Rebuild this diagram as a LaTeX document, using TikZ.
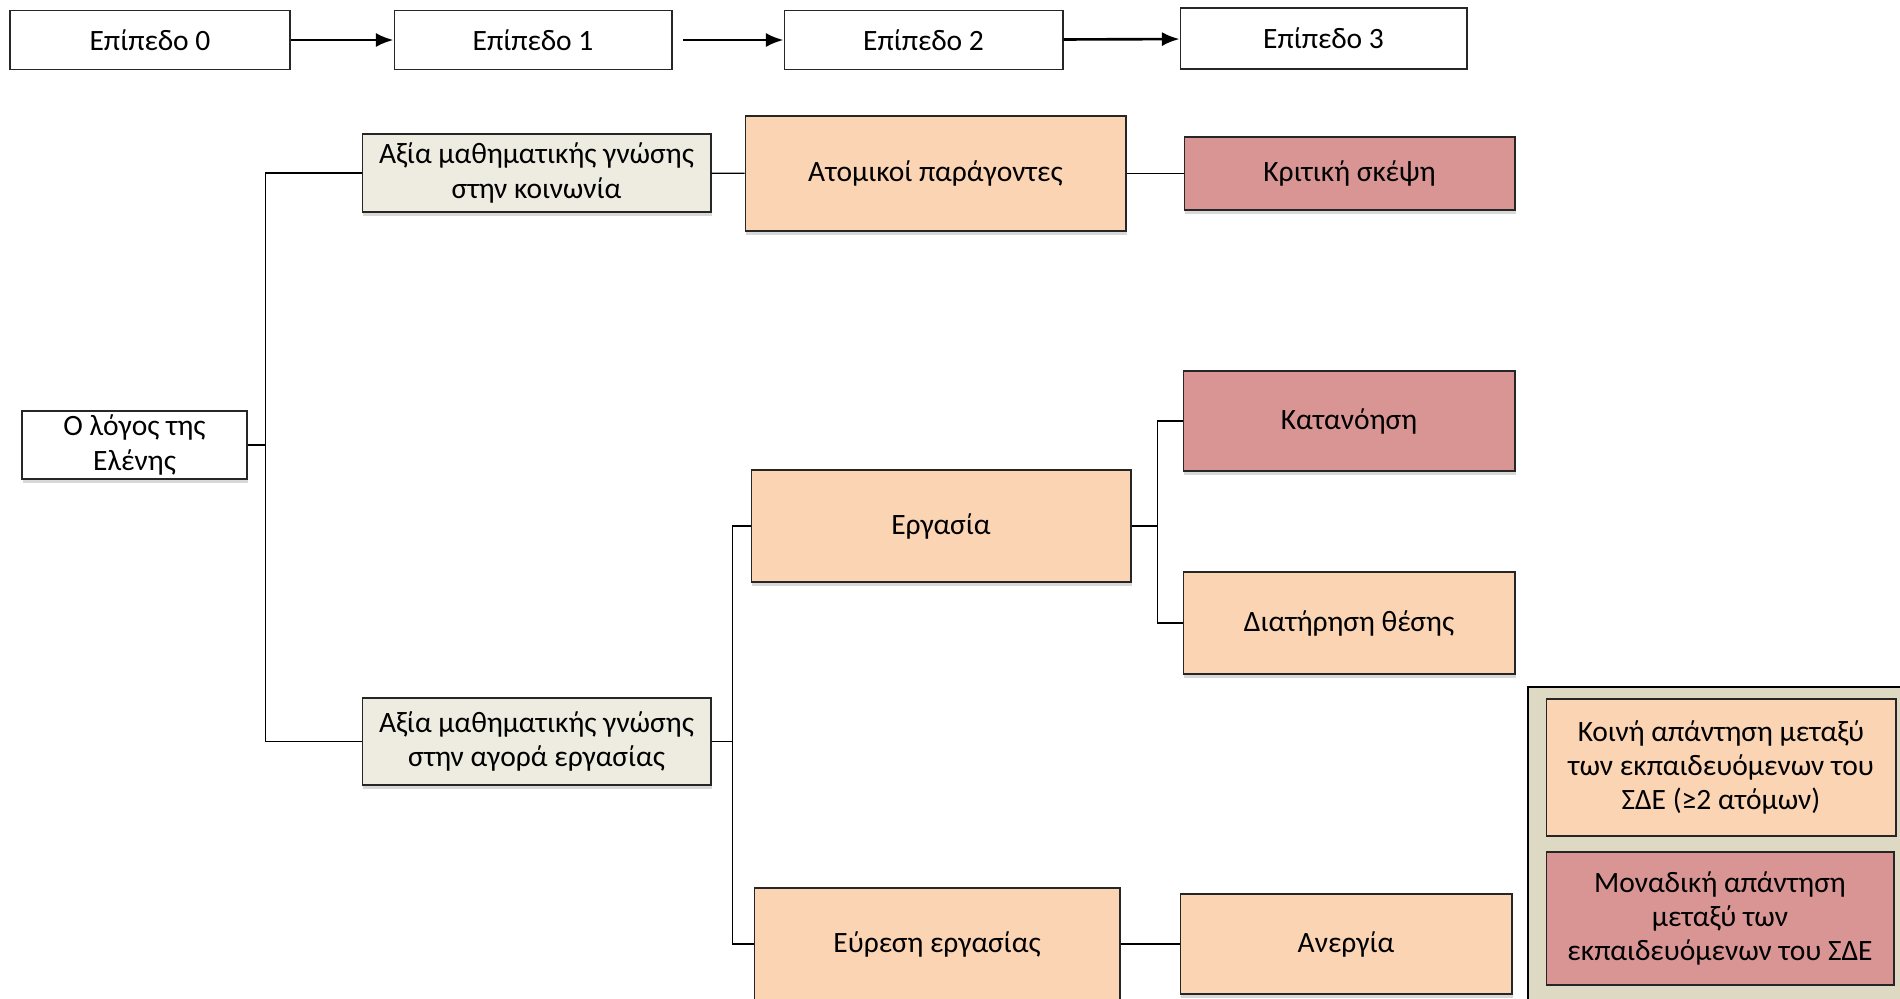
\documentclass[tikz,border=0pt]{standalone}
\usepackage{fontspec}
\setmainfont{Carlito}
\usetikzlibrary{arrows.meta,shadows}

\definecolor{plain}{HTML}{EEECE1}
\definecolor{peach}{HTML}{FBD4B4}
\definecolor{rose}{HTML}{D99594}
\definecolor{legendbg}{HTML}{DDD9C3}

\tikzset{
    box/.style={draw=black!85, line width=0.6pt, align=center, inner sep=2pt,
        font=\fontsize{16.8}{19.5}\selectfont},
    shade/.style={drop shadow={shadow xshift=0.6pt, shadow yshift=-2pt, opacity=0.3}},
    level/.style={box, fill=white, minimum height=1.18cm},
    link/.style={line width=0.8pt},
}

\begin{document}
\begin{tikzpicture}[x=0.02cm,y=-0.02cm]
        \clip (0,0) rectangle (1900,998);
        \fill[white] (0,0) rectangle (1900,998);

        % levels across the top
        \node[level, minimum width=5.6cm, line width=0.9pt] (lvl0) at (150,40) {Επίπεδο 0};
        \node[level, minimum width=5.56cm] (lvl1) at (533,40) {Επίπεδο 1};
        \node[level, minimum width=5.58cm] (lvl2) at (923.5,40) {Επίπεδο 2};
        \node[level, minimum width=5.74cm, minimum height=1.22cm] (lvl3) at (1323.5,38.5) {Επίπεδο 3};
        \draw[link, line width=1.5pt, -{Latex[length=10pt,width=8pt]}] (lvl0) -- (lvl1);
        \draw[link, line width=1.5pt, -{Latex[length=10pt,width=8pt]}] ([xshift=6pt]lvl1.east) -- (lvl2);
        \draw[link, line width=1.5pt, -{Latex[length=10pt,width=8pt]}] (lvl2) -- (lvl3);

        % tree
        \node[box, shade, fill=white, minimum width=4.5cm, minimum height=1.36cm] (root) at (134.5,445) {Ο λόγος της\\Ελένης};

        \node[box, shade, fill=plain, minimum width=6.98cm, minimum height=1.56cm] (society) at (536.5,173) {Αξία μαθηματικής γνώσης\\στην κοινωνία};
        \node[box, shade, fill=plain, minimum width=6.98cm, minimum height=1.74cm] (market) at (536.5,741.5) {Αξία μαθηματικής γνώσης\\στην αγορά εργασίας};

        \node[box, shade, fill=peach, minimum width=7.62cm, minimum height=2.3cm] (personal) at (935.5,173.5) {Ατομικοί παράγοντες};
        \node[box, shade, fill=peach, minimum width=7.6cm, minimum height=2.24cm] (work) at (941,526) {Εργασία};
        \node[box, shade, fill=peach, minimum width=7.32cm, minimum height=2.24cm] (jobhunt) at (937,944) {Εύρεση εργασίας};

        \node[box, shade, fill=rose, minimum width=6.62cm, minimum height=1.46cm] (critical) at (1349.5,173.5) {Κριτική σκέψη};
        \node[box, shade, fill=rose, minimum width=6.64cm, minimum height=2cm] (grasp) at (1349,421) {Κατανόηση};
        \node[box, shade, fill=peach, minimum width=6.64cm, minimum height=2.04cm] (keepjob) at (1349,623) {Διατήρηση θέσης};
        \node[box, shade, fill=peach, minimum width=6.64cm, minimum height=2cm] (jobless) at (1346,944) {Ανεργία};

        \draw[link] (root.east) -- ++(18,0) |- (society.west);
        \draw[link] (root.east) -- ++(18,0) |- (market.west);
        \draw[link] (society) -- (personal);
        \draw[link] (personal) -- (critical);
        \draw[link] (market.east) -- ++(21,0) |- (work.west);
        \draw[link] (market.east) -- ++(21,0) |- (jobhunt.west);
        \draw[link] (work.east) -- ++(26,0) |- (grasp.west);
        \draw[link] (work.east) -- ++(26,0) |- (keepjob.west);
        \draw[link] (jobhunt.east |- jobless.west) -- (jobless.west);

        % legend
        \draw[line width=1pt, fill=legendbg] (1528,687) rectangle (1915,1010);
        \node[box, fill=peach, minimum width=7cm, minimum height=2.74cm] (common) at (1721,767.5) {Κοινή απάντηση μεταξύ\\των εκπαιδευόμενων του\\ΣΔΕ (≥2 ατόμων)};
        \node[box, fill=rose, minimum width=6.96cm, minimum height=2.66cm] (single) at (1720,918.5) {Μοναδική απάντηση\\μεταξύ των\\εκπαιδευόμενων του ΣΔΕ};
    \end{tikzpicture}
\end{document}
